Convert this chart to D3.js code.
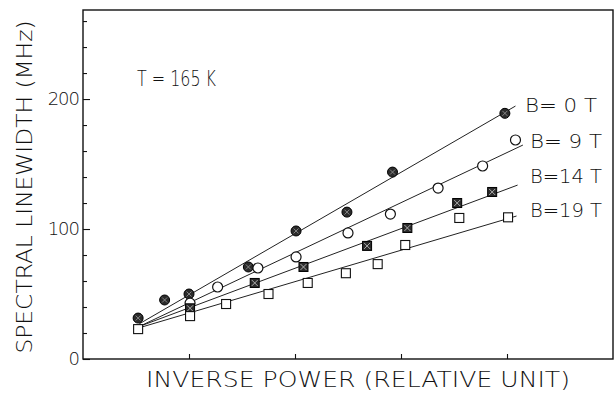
<!DOCTYPE html>
<html>
<head>
<meta charset="utf-8">
<script src="https://cdn.jsdelivr.net/npm/d3@7"></script>
<style>
  body { margin: 0; background: #fff; }
  svg { display: block; }
  text { font-family: "DejaVu Sans", sans-serif; font-weight: 200; fill: #111; }
</style>
</head>
<body>
<svg id="chart" width="615" height="402"></svg>
<script>
// tick values
const xTicks = [1, 2, 3, 4];
const yMajor = [0, 100, 200];
const yMinor = [20, 40, 60, 80, 120, 140, 160, 180, 220, 240, 260];

// series
const labels = ["B= 0 T", "B= 9 T", "B=14 T", "B=19 T"];
const b0X = [0.52, 0.77, 1.0, 1.56, 2.01, 2.49, 2.92, 3.98];
const b0Y = [31.5, 45.4, 50, 70.8, 98.5, 113, 143.8, 189];
const b9X = [1.01, 1.27, 1.65, 2.01, 2.5, 2.9, 3.35, 3.77, 4.08];
const b9Y = [43, 55.4, 70, 78.5, 97, 111.5, 131.5, 148.5, 168.5];
const b14X = [1.01, 1.62, 2.08, 2.68, 3.06, 3.53, 3.86];
const b14Y = [39, 58.5, 70.8, 87, 100.8, 120, 128.5];
const b19X = [0.52, 1.01, 1.35, 1.75, 2.12, 2.48, 2.78, 3.04, 3.55, 4.01];
const b19Y = [23, 33, 42.3, 50, 58.5, 66, 73, 87.7, 108.5, 109];

// fitted straight lines
const fitStartX = [0.53, 0.53, 0.53, 0.53];
const fitStartY = [27, 25, 25, 24];
const fitEndX = [4.08, 4.15, 4.10, 4.09];
const fitEndY = [194.6, 164.6, 133.8, 110];

const svg = d3.select("#chart");
const mLeft = 83, mRight = 613, mTop = 10, mBottom = 359;

const x = d3.scaleLinear().domain([0, 5]).range([mLeft, mRight]);
const y = d3.scaleLinear().domain([0, 268.5]).range([mBottom, mTop]);

// frame
svg.append("rect")
    .attr("x", mLeft).attr("y", mTop)
    .attr("width", mRight - mLeft).attr("height", mBottom - mTop)
    .attr("fill", "none").attr("stroke", "#111").attr("stroke-width", 1.4);

// y axis, ticks pointing inward
const yAxis = svg.append("g").attr("transform", `translate(${mLeft},0)`)
    .call(d3.axisLeft(y).tickValues(yMajor).tickSize(-7).tickPadding(4).tickFormat(d3.format("d")));
svg.append("g").attr("transform", `translate(${mLeft},0)`)
    .call(d3.axisLeft(y).tickValues(yMinor).tickSize(-4).tickFormat(""));
svg.append("g").attr("transform", `translate(0,${mBottom})`)
    .call(d3.axisBottom(x).tickValues(xTicks).tickSize(-5).tickFormat(""));

svg.selectAll(".domain").remove();
svg.selectAll(".tick line").attr("stroke", "#111").attr("stroke-width", 1.1);
yAxis.selectAll(".tick text")
    .attr("font-size", 18).attr("letter-spacing", -1)
    .attr("font-family", "DejaVu Sans").attr("fill", "#111");

// fitted lines
const lines = d3.range(4).map(i => [[fitStartX[i], fitStartY[i]], [fitEndX[i], fitEndY[i]]]);
svg.append("g").selectAll("line").data(lines).join("line")
    .attr("x1", d => x(d[0][0])).attr("y1", d => y(d[0][1]))
    .attr("x2", d => x(d[1][0])).attr("y2", d => y(d[1][1]))
    .attr("stroke", "#222").attr("stroke-width", 1);

// markers
const pts = (xs, ys) => xs.map((v, i) => [v, ys[i]]);

const g = svg.append("g");
// B=0 : dark hatched circles
const c0 = g.selectAll(".b0").data(pts(b0X, b0Y)).join("g")
    .attr("transform", d => `translate(${x(d[0])},${y(d[1])})`);
c0.append("circle").attr("r", 5).attr("fill", "#2b2b2b").attr("stroke", "#000").attr("stroke-width", 1);
c0.append("path").attr("d", "M-2.5,-2.5L2.5,2.5M-2.5,2.5L2.5,-2.5")
    .attr("stroke", "#999").attr("stroke-width", 0.8);

// B=9 : open circles
g.selectAll(".b9").data(pts(b9X, b9Y)).join("circle")
    .attr("cx", d => x(d[0])).attr("cy", d => y(d[1])).attr("r", 5)
    .attr("fill", "#fff").attr("stroke", "#111").attr("stroke-width", 1.2);

// B=14 : hatched squares
const s14 = g.selectAll(".b14").data(pts(b14X, b14Y)).join("g")
    .attr("transform", d => `translate(${x(d[0])},${y(d[1])})`);
s14.append("rect").attr("x", -4.5).attr("y", -4.5).attr("width", 9).attr("height", 9)
    .attr("fill", "#2b2b2b").attr("stroke", "#000").attr("stroke-width", 1);
s14.append("path").attr("d", "M-3,-3L3,3M-3,3L3,-3")
    .attr("stroke", "#bbb").attr("stroke-width", 0.9);

// B=19 : open squares
g.selectAll(".b19").data(pts(b19X, b19Y)).join("rect")
    .attr("x", d => x(d[0]) - 4.5).attr("y", d => y(d[1]) - 4.5)
    .attr("width", 9).attr("height", 9)
    .attr("fill", "#fff").attr("stroke", "#111").attr("stroke-width", 1.1);

// series labels at the end of each line
const labelPos = [[525, 112], [530, 148], [530, 183], [530, 217]];
svg.append("g").selectAll("text").data(labels).join("text")
    .attr("x", (d, i) => labelPos[i][0]).attr("y", (d, i) => labelPos[i][1])
    .attr("font-size", 20).attr("textLength", 72).attr("lengthAdjust", "spacingAndGlyphs")
    .text(d => d);

svg.append("text").attr("x", 137).attr("y", 86)
    .attr("font-size", 21).attr("textLength", 79).attr("lengthAdjust", "spacingAndGlyphs")
    .text("T = 165 K");

// axis titles
svg.append("text").attr("x", 146).attr("y", 387)
    .attr("font-size", 22).attr("textLength", 424).attr("lengthAdjust", "spacingAndGlyphs")
    .text("INVERSE POWER (RELATIVE UNIT)");

svg.append("text").attr("transform", "translate(32,187) rotate(-90)")
    .attr("text-anchor", "middle")
    .attr("font-size", 22).attr("textLength", 333).attr("lengthAdjust", "spacingAndGlyphs")
    .text("SPECTRAL LINEWIDTH (MHz)");
</script>
</body>
</html>
